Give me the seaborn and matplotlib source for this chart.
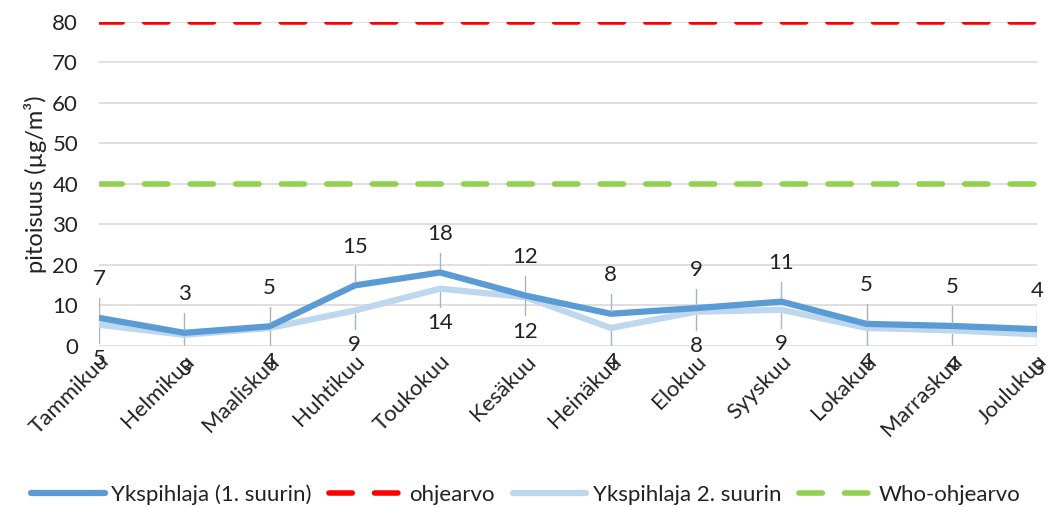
import matplotlib
matplotlib.use("Agg")
import matplotlib.pyplot as plt
import numpy as np
import pandas as pd
import seaborn as sns
from matplotlib.lines import Line2D

months = ["Tammikuu", "Helmikuu", "Maaliskuu", "Huhtikuu", "Toukokuu", "Kesäkuu",
          "Heinäkuu", "Elokuu", "Syyskuu", "Lokakuu", "Marraskuu", "Joulukuu"]
suurin_1 = [6.9, 3.2, 4.8, 14.9, 18.1, 12.4, 7.9, 9.3, 10.9, 5.4, 4.9, 4.1]
suurin_2 = [5.2, 2.7, 4.4, 8.7, 14.1, 12.0, 4.4, 8.4, 8.9, 4.4, 3.8, 2.8]
ohjearvo = 80
who_ohjearvo = 40

sns.set_theme(style="white")
plt.rcParams["font.family"] = ["Lato", "DejaVu Sans"]
fs = 16

df = pd.DataFrame({"kk": np.arange(len(months)), "s1": suurin_1, "s2": suurin_2})

fig, ax = plt.subplots(figsize=(10.52, 5.07), dpi=100)
fig.subplots_adjust(left=0.094, right=0.986, top=0.957, bottom=0.318)

for y in range(0, 81, 10):
    ax.axhline(y, color="#d9d9d9", lw=1.2, zorder=0)

dash = dict(lw=4, dashes=(4.2, 4.0), dash_capstyle="round")
ax.axhline(ohjearvo, color="#ff0000", zorder=2, **dash)
ax.axhline(who_ohjearvo, color="#92d050", zorder=2, **dash)

sns.lineplot(data=df, x="kk", y="s2", color="#bdd7ee", lw=4.5, ax=ax, zorder=3)
sns.lineplot(data=df, x="kk", y="s1", color="#5b9bd5", lw=4.5, ax=ax, zorder=4)

# data labels with leader lines
lead = "#a6b3c6"
for i, (a, b) in enumerate(zip(suurin_1, suurin_2)):
    ax.plot([i, i], [a + 0.8, a + 4.8], color=lead, lw=1, zorder=5)
    ax.text(i, a + 9.5, f"{round(a):.0f}", ha="center", va="center", fontsize=fs, color="#222222")
    ax.plot([i, i], [b - 0.8, b - 4.5], color=lead, lw=1, zorder=5)
    ax.text(i, b - 8.5, f"{round(b):.0f}", ha="center", va="center", fontsize=fs, color="#222222",
            clip_on=False)

ax.set_xlim(0, len(months) - 1)
ax.set_ylim(0, 80)
ax.set_yticks(range(0, 81, 10))
ax.set_xticks(range(len(months)))
ax.set_xticklabels(months, rotation=45, ha="right", rotation_mode="anchor", fontsize=fs)
ax.tick_params(axis="y", labelsize=fs, pad=15, length=0, labelcolor="#222222")
ax.tick_params(axis="x", pad=4, length=0, labelcolor="#222222")
ax.set_xlabel("")
ax.set_ylabel("pitoisuus (µg/m³)", fontsize=17, labelpad=4, color="#222222")
for s in ax.spines.values():
    s.set_visible(False)

handles = [
    Line2D([], [], color="#5b9bd5", lw=4.5, solid_capstyle="round"),
    Line2D([], [], color="#ff0000", **dash),
    Line2D([], [], color="#bdd7ee", lw=4.5, solid_capstyle="round"),
    Line2D([], [], color="#92d050", **dash),
]
labels = ["Ykspihlaja (1. suurin)", "ohjearvo", "Ykspihlaja 2. suurin", "Who-ohjearvo"]
fig.legend(handles, labels, loc="center", bbox_to_anchor=(0.5, 0.025), ncol=4, frameon=False,
           fontsize=fs, handlelength=3.3, handletextpad=0.3, columnspacing=0.8,
           labelcolor="#222222")

fig.savefig("out.png", dpi=100)
